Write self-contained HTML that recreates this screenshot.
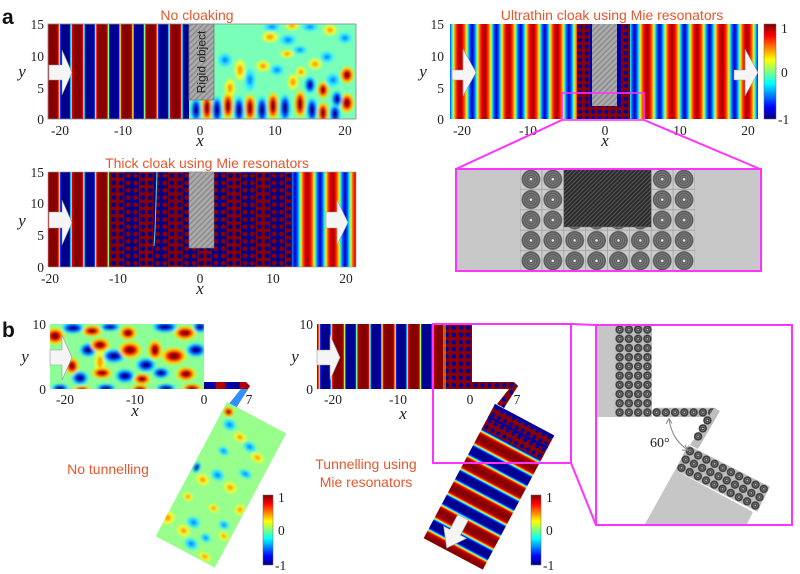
<!DOCTYPE html>
<html><head><meta charset="utf-8"><style>
html,body{margin:0;padding:0;background:#fff;}
svg{display:block;}
.t{font-family:"Liberation Serif",serif;font-size:13.5px;fill:#222;}
.ax{font-family:"Liberation Serif",serif;font-style:italic;font-size:17px;fill:#222;}
.ti{font-family:"Liberation Sans",sans-serif;font-size:14px;fill:#e4572e;}
.pl{font-family:"Liberation Sans",sans-serif;font-weight:bold;font-size:21px;fill:#111;}
</style></head><body>
<svg width="800" height="574" viewBox="0 0 800 574" xmlns="http://www.w3.org/2000/svg" xmlns:xlink="http://www.w3.org/1999/xlink">
<defs>
<linearGradient id="S">
<stop offset="0" stop-color="#800000"/><stop offset="0.17" stop-color="#900000"/><stop offset="0.22" stop-color="#ff0000"/><stop offset="0.25" stop-color="#ffff00"/><stop offset="0.28" stop-color="#00ffff"/><stop offset="0.31" stop-color="#0000ff"/><stop offset="0.35" stop-color="#00008c"/><stop offset="0.65" stop-color="#00008c"/><stop offset="0.69" stop-color="#0000ff"/><stop offset="0.72" stop-color="#00ffff"/><stop offset="0.75" stop-color="#ffff00"/><stop offset="0.78" stop-color="#ff0000"/><stop offset="0.83" stop-color="#900000"/><stop offset="1" stop-color="#800000"/>
</linearGradient>
<linearGradient id="M">
<stop offset="0" stop-color="#a80000"/><stop offset="0.1" stop-color="#e80000"/><stop offset="0.18" stop-color="#ff5000"/><stop offset="0.25" stop-color="#ffe000"/><stop offset="0.3" stop-color="#70ff90"/><stop offset="0.35" stop-color="#00d0ff"/><stop offset="0.41" stop-color="#0050ff"/><stop offset="0.5" stop-color="#0000c0"/><stop offset="0.59" stop-color="#0050ff"/><stop offset="0.65" stop-color="#00d0ff"/><stop offset="0.7" stop-color="#70ff90"/><stop offset="0.75" stop-color="#ffe000"/><stop offset="0.82" stop-color="#ff5000"/><stop offset="0.9" stop-color="#e80000"/><stop offset="1" stop-color="#a80000"/>
</linearGradient>
<linearGradient id="W">
<stop offset="0" stop-color="#800000"/><stop offset="0.15" stop-color="#a00000"/><stop offset="0.21" stop-color="#ff1000"/><stop offset="0.25" stop-color="#ffe000"/><stop offset="0.29" stop-color="#20ffff"/><stop offset="0.33" stop-color="#0020ff"/><stop offset="0.38" stop-color="#000090"/><stop offset="0.62" stop-color="#000090"/><stop offset="0.67" stop-color="#0020ff"/><stop offset="0.71" stop-color="#20ffff"/><stop offset="0.75" stop-color="#ffe000"/><stop offset="0.79" stop-color="#ff1000"/><stop offset="0.85" stop-color="#a00000"/><stop offset="1" stop-color="#800000"/>
</linearGradient>
<linearGradient id="gS1" xlink:href="#S" gradientUnits="userSpaceOnUse" x1="53" y1="0" x2="77.5" y2="0" spreadMethod="repeat"/>
<linearGradient id="gSb" xlink:href="#S" gradientUnits="userSpaceOnUse" x1="338" y1="0" x2="363.3" y2="0" spreadMethod="repeat"/>
<linearGradient id="gM2l" xlink:href="#M" gradientUnits="userSpaceOnUse" x1="460" y1="0" x2="484.2" y2="0" spreadMethod="repeat"/>
<linearGradient id="gM2r" xlink:href="#M" gradientUnits="userSpaceOnUse" x1="647" y1="0" x2="672" y2="0" spreadMethod="repeat"/>
<linearGradient id="gM3r" xlink:href="#M" gradientUnits="userSpaceOnUse" x1="307.5" y1="0" x2="332.5" y2="0" spreadMethod="repeat"/>
<linearGradient id="gW" xlink:href="#W" gradientUnits="userSpaceOnUse" x1="0" y1="38" x2="0" y2="66" spreadMethod="repeat"/>
<linearGradient id="jet" x1="0" y1="0" x2="0" y2="1">
<stop offset="0" stop-color="#800000"/><stop offset="0.125" stop-color="#ff0000"/><stop offset="0.375" stop-color="#ffff00"/><stop offset="0.5" stop-color="#80ff80"/><stop offset="0.625" stop-color="#00ffff"/><stop offset="0.875" stop-color="#0000ff"/><stop offset="1" stop-color="#000080"/>
</linearGradient>
<linearGradient id="BD">
<stop offset="0" stop-color="#8a0000"/><stop offset="0.48" stop-color="#8a0000"/><stop offset="0.5" stop-color="#00008a"/><stop offset="0.98" stop-color="#00008a"/><stop offset="1" stop-color="#8a0000"/>
</linearGradient>
<linearGradient id="band" xlink:href="#BD" gradientUnits="userSpaceOnUse" x1="110" y1="0" x2="139.2" y2="0" spreadMethod="repeat"/>
<linearGradient id="band2" xlink:href="#BD" gradientUnits="userSpaceOnUse" x1="124.6" y1="0" x2="153.8" y2="0" spreadMethod="repeat"/>
<linearGradient id="strip1" gradientUnits="userSpaceOnUse" x1="204" y1="0" x2="250" y2="0">
<stop offset="0" stop-color="#00008c"/><stop offset="0.24" stop-color="#0000c0"/><stop offset="0.27" stop-color="#c00000"/><stop offset="0.46" stop-color="#a00000"/><stop offset="0.5" stop-color="#0000c0"/><stop offset="0.76" stop-color="#00008c"/><stop offset="0.8" stop-color="#c00000"/><stop offset="1" stop-color="#900000"/>
</linearGradient>

<pattern id="dotsA2" patternUnits="userSpaceOnUse" x="577" y="24" width="6.5" height="6.5"><circle cx="3.25" cy="3.25" r="2.1" fill="#0000a0"/></pattern>
<pattern id="dotsB2" patternUnits="userSpaceOnUse" x="443" y="324" width="7.2" height="7.2"><circle cx="3.6" cy="3.6" r="2.3" fill="#0000a0"/></pattern>
<pattern id="dotsLoc" patternUnits="userSpaceOnUse" x="0" y="0" width="6.7" height="7"><circle cx="3.35" cy="3.5" r="2.2" fill="#0000a0"/></pattern>
<pattern id="dotW" patternUnits="userSpaceOnUse" x="110" y="172" width="7.3" height="7.3"><circle cx="3.65" cy="3.65" r="2.4" fill="#fff"/></pattern>
<mask id="mA3" maskUnits="userSpaceOnUse" x="0" y="0" width="800" height="574"><rect x="110" y="172" width="182" height="95" fill="url(#dotW)"/></mask>
<pattern id="hatch" patternUnits="userSpaceOnUse" width="4" height="4" patternTransform="rotate(45)"><rect width="4" height="4" fill="#ababab"/><rect width="1.5" height="4" fill="#8c8c8c"/></pattern>
<pattern id="hatchD" patternUnits="userSpaceOnUse" width="3" height="3" patternTransform="rotate(45)"><rect width="3" height="3" fill="#2c2c2c"/><rect width="1" height="3" fill="#575757"/></pattern>
<pattern id="rzP" patternUnits="userSpaceOnUse" x="520" y="169" width="21.875" height="20.4">
<rect width="21.875" height="20.4" fill="#cbcbcb" stroke="#9a9a9a" stroke-width="0.7"/>
<g transform="translate(10.94,10.2)"><circle r="9.4" fill="#5a5a5a"/><circle r="7.3" fill="none" stroke="#7f7f7f" stroke-width="0.9"/><circle r="5.1" fill="none" stroke="#7f7f7f" stroke-width="0.9"/><circle r="3" fill="none" stroke="#7f7f7f" stroke-width="0.9"/><circle r="1.3" fill="#eee"/></g>
</pattern>
<pattern id="rsP" patternUnits="userSpaceOnUse" x="615" y="325" width="9.25" height="9.2">
<rect width="9.25" height="9.2" fill="#bdbdbd"/><circle cx="4.625" cy="4.6" r="4.2" fill="#3c3c3c"/><circle cx="4.625" cy="4.6" r="2.2" fill="none" stroke="#8a8a8a" stroke-width="0.7"/><circle cx="4.625" cy="4.6" r="0.8" fill="#cfcfcf"/>
</pattern>
<pattern id="rsP2" patternUnits="userSpaceOnUse" x="0" y="0" width="9.2" height="9.33">
<rect width="9.2" height="9.33" fill="#bdbdbd"/><circle cx="4.6" cy="4.66" r="4.2" fill="#3c3c3c"/><circle cx="4.6" cy="4.66" r="2.2" fill="none" stroke="#8a8a8a" stroke-width="0.7"/><circle cx="4.6" cy="4.66" r="0.8" fill="#cfcfcf"/>
</pattern>
<g id="rs"><circle r="4.2" fill="#3c3c3c"/><circle r="2.2" fill="none" stroke="#8a8a8a" stroke-width="0.7"/><circle r="0.8" fill="#cfcfcf"/></g>

<g id="bR"><circle r="1.35" fill="#ffe000"/><circle r="1" fill="#ff1a00"/><circle r="0.6" fill="#8c0000"/></g>
<g id="bB"><circle r="1.35" fill="#20e0ff"/><circle r="1" fill="#0030ff"/><circle r="0.6" fill="#00008c"/></g>
<g id="bO"><circle r="1.3" fill="#f0ff30"/><circle r="0.65" fill="#ff9800"/></g>
<g id="bC"><circle r="1.3" fill="#30e8ff"/><circle r="0.65" fill="#0090ff"/></g>
<filter id="bl" x="-10%" y="-10%" width="120%" height="120%"><feGaussianBlur stdDeviation="1.3"/></filter>
<clipPath id="cA1"><rect x="189" y="24" width="167" height="95"/></clipPath>
<clipPath id="cB1"><rect x="50" y="324" width="154" height="65"/></clipPath>
<clipPath id="cLoc"><rect x="0" y="0" width="67" height="152"/></clipPath>
</defs>

<!-- ============ panel a ============ -->
<text class="pl" x="2" y="24">a</text>
<text class="ti" x="197" y="20" text-anchor="middle">No cloaking</text>
<text class="ti" x="612" y="20" text-anchor="middle">Ultrathin cloak using Mie resonators</text>
<text class="ti" x="207" y="168" text-anchor="middle">Thick cloak using Mie resonators</text>

<!-- a1 -->
<rect x="48" y="24" width="141" height="95" fill="url(#gS1)"/>
<g clip-path="url(#cA1)">
<rect x="189" y="24" width="167" height="95" fill="#7affb8"/>
<g filter="url(#bl)">
<use xlink:href="#bO" transform="translate(270,37) scale(6,4)"/>
<use xlink:href="#bO" transform="translate(292,26) scale(5,3)"/>
<use xlink:href="#bO" transform="translate(330,30) scale(5,4)"/>
<use xlink:href="#bO" transform="translate(287,54) scale(5,3)"/>
<use xlink:href="#bO" transform="translate(263,66) scale(5,4)"/>
<use xlink:href="#bO" transform="translate(315,64) scale(5,4)"/>
<use xlink:href="#bO" transform="translate(301,72) scale(4,4)"/>
<use xlink:href="#bO" transform="translate(240,70) scale(4,8)"/>
<use xlink:href="#bO" transform="translate(230,88) scale(4,7)"/>
<use xlink:href="#bO" transform="translate(293,82) scale(4,6)"/>
<use xlink:href="#bC" transform="translate(288,40) scale(6,4)"/>
<use xlink:href="#bC" transform="translate(272,27) scale(6,3)"/>
<use xlink:href="#bC" transform="translate(310,27) scale(6,3)"/>
<use xlink:href="#bC" transform="translate(345,38) scale(5,4)"/>
<use xlink:href="#bC" transform="translate(300,50) scale(5,3)"/>
<use xlink:href="#bC" transform="translate(277,70) scale(5,4)"/>
<use xlink:href="#bC" transform="translate(327,57) scale(5,4)"/>
<use xlink:href="#bC" transform="translate(250,80) scale(4,8)"/>
<use xlink:href="#bC" transform="translate(333,80) scale(5,5)"/>
<use xlink:href="#bC" transform="translate(225,60) scale(5,5)"/>
<use xlink:href="#bR" transform="translate(347,75) scale(5,6)"/>
<use xlink:href="#bR" transform="translate(323,90) scale(4,6)"/>
<use xlink:href="#bR" transform="translate(347,103) scale(5,7)"/>
<use xlink:href="#bB" transform="translate(196,110) scale(4,9)"/>
<use xlink:href="#bR" transform="translate(207,108) scale(4,10)"/>
<use xlink:href="#bB" transform="translate(217,110) scale(4,10)"/>
<use xlink:href="#bR" transform="translate(228,106) scale(4,10)"/>
<use xlink:href="#bB" transform="translate(239,110) scale(4,10)"/>
<use xlink:href="#bR" transform="translate(250,108) scale(4,10)"/>
<use xlink:href="#bB" transform="translate(262,110) scale(4,10)"/>
<use xlink:href="#bR" transform="translate(273,106) scale(4,10)"/>
<use xlink:href="#bB" transform="translate(285,108) scale(4,10)"/>
<use xlink:href="#bR" transform="translate(300,104) scale(4,10)"/>
<use xlink:href="#bB" transform="translate(310,85) scale(4,6)"/>
<use xlink:href="#bB" transform="translate(312,110) scale(4,9)"/>
<use xlink:href="#bR" transform="translate(323,113) scale(4,8)"/>
<use xlink:href="#bB" transform="translate(337,99) scale(4,6)"/>
<use xlink:href="#bB" transform="translate(335,114) scale(4,7)"/>
</g>
</g>
<rect x="189" y="24" width="25" height="76" fill="url(#hatch)" stroke="#777" stroke-width="0.8"/>
<text x="0" y="0" transform="translate(205.5,62) rotate(-90)" text-anchor="middle" font-family="Liberation Sans, sans-serif" font-size="12" fill="#222">Rigid object</text>
<rect x="48" y="24" width="308" height="95" fill="none" stroke="#888" stroke-width="0.8"/>
<polygon points="49,65 62,65 62,50 72,72.5 62,95 62,80 49,80" fill="#f5f5f5" stroke="#999" stroke-width="0.6"/>

<text class="t" x="44" y="29" text-anchor="end">15</text>
<text class="t" x="44" y="61" text-anchor="end">10</text>
<text class="t" x="44" y="93" text-anchor="end">5</text>
<text class="t" x="44" y="124" text-anchor="end">0</text>
<text class="t" x="60" y="135" text-anchor="middle">-20</text>
<text class="t" x="123" y="135" text-anchor="middle">-10</text>
<text class="t" x="200" y="135" text-anchor="middle">0</text>
<text class="t" x="275" y="135" text-anchor="middle">10</text>
<text class="t" x="345" y="135" text-anchor="middle">20</text>
<text class="ax" x="200" y="146" text-anchor="middle">x</text>
<text class="ax" x="22" y="77" text-anchor="middle">y</text>

<!-- a2 -->
<rect x="450" y="24" width="128" height="95" fill="url(#gM2l)"/>
<rect x="630" y="24" width="128" height="95" fill="url(#gM2r)"/>
<rect x="577" y="24" width="14" height="95" fill="#8a0000"/>
<rect x="618" y="24" width="12" height="95" fill="#8a0000"/>
<rect x="591" y="106" width="27" height="13" fill="#8a0000"/>
<rect x="577" y="24" width="14" height="95" fill="url(#dotsA2)"/>
<rect x="618" y="24" width="12" height="95" fill="url(#dotsA2)"/>
<rect x="591" y="106" width="27" height="13" fill="url(#dotsA2)"/>
<rect x="590" y="24" width="3" height="82" fill="#0000b0"/>
<rect x="617" y="24" width="4" height="82" fill="#0000b0"/>
<rect x="592" y="24" width="25" height="82" fill="url(#hatch)"/>
<polygon points="452,70 463,70 463,49 476,72.5 463,96 463,80 452,80" fill="#f5f5f5" stroke="#999" stroke-width="0.6"/>
<polygon points="734,70 745,70 745,49 758,72.5 745,96 745,80 734,80" fill="#f5f5f5" stroke="#999" stroke-width="0.6"/>
<rect x="764" y="24" width="12" height="95" fill="url(#jet)" stroke="#666" stroke-width="0.5"/>
<text class="t" x="781" y="33">1</text>
<text class="t" x="781" y="77">0</text>
<text class="t" x="778" y="124">-1</text>

<text class="t" x="444" y="29" text-anchor="end">15</text>
<text class="t" x="444" y="61" text-anchor="end">10</text>
<text class="t" x="444" y="93" text-anchor="end">5</text>
<text class="t" x="444" y="124" text-anchor="end">0</text>
<text class="t" x="462" y="135" text-anchor="middle">-20</text>
<text class="t" x="528" y="135" text-anchor="middle">-10</text>
<text class="t" x="605" y="135" text-anchor="middle">0</text>
<text class="t" x="680" y="135" text-anchor="middle">10</text>
<text class="t" x="748" y="135" text-anchor="middle">20</text>
<text class="ax" x="605" y="146" text-anchor="middle">x</text>
<text class="ax" x="423" y="77" text-anchor="middle">y</text>

<!-- a zoom box -->
<rect x="456" y="169" width="305" height="102" fill="#c8c8c8"/>
<rect x="520" y="169" width="175" height="102" fill="url(#rzP)"/>
<rect x="563.75" y="169" width="87.5" height="58" fill="url(#hatchD)" stroke="#777" stroke-width="0.6"/>
<line x1="562" y1="120" x2="456" y2="169" stroke="#ff33ff" stroke-width="2"/>
<line x1="644" y1="120" x2="760" y2="169" stroke="#ff33ff" stroke-width="2"/>
<rect x="562" y="93" width="82" height="27" fill="none" stroke="#ff33ff" stroke-width="1.6"/>
<rect x="456" y="169" width="305" height="102" fill="none" stroke="#ff33ff" stroke-width="2"/>

<!-- a3 -->
<rect x="48" y="172" width="62" height="95" fill="url(#gS1)"/>
<rect x="292" y="172" width="64" height="95" fill="url(#gM3r)"/>
<rect x="110" y="172" width="182" height="95" fill="url(#band)"/>
<rect x="110" y="172" width="182" height="95" fill="url(#band2)" mask="url(#mA3)"/>
<path d="M157,172 L156,200 L155,230 L154,246" stroke="#40e0ff" stroke-width="1" fill="none"/>
<rect x="189" y="172" width="25" height="76" fill="url(#hatch)" stroke="#777" stroke-width="0.6"/>
<rect x="48" y="172" width="308" height="95" fill="none" stroke="#999" stroke-width="0.6"/>
<polygon points="49,212 62,212 62,200 72,222.5 62,245 62,228 49,228" fill="#f5f5f5" stroke="#999" stroke-width="0.6"/>
<polygon points="326,212 337,212 337,200 348,222.5 337,245 337,228 326,228" fill="#f5f5f5" stroke="#999" stroke-width="0.6"/>
<text class="t" x="44" y="177" text-anchor="end">15</text>
<text class="t" x="44" y="208" text-anchor="end">10</text>
<text class="t" x="44" y="240" text-anchor="end">5</text>
<text class="t" x="44" y="272" text-anchor="end">0</text>
<text class="t" x="50" y="283" text-anchor="middle">-20</text>
<text class="t" x="118" y="283" text-anchor="middle">-10</text>
<text class="t" x="200" y="283" text-anchor="middle">0</text>
<text class="t" x="273" y="283" text-anchor="middle">10</text>
<text class="t" x="346" y="283" text-anchor="middle">20</text>
<text class="ax" x="200" y="294" text-anchor="middle">x</text>
<text class="ax" x="22" y="226" text-anchor="middle">y</text>

<!-- ============ panel b ============ -->
<text class="pl" x="2" y="337">b</text>

<!-- b1 -->
<g clip-path="url(#cB1)">
<rect x="50" y="324" width="154" height="65" fill="#8cff96"/>
<g filter="url(#bl)">
<use xlink:href="#bO" transform="translate(100,362) scale(4,9)"/>
<use xlink:href="#bR" transform="translate(55,336) scale(7,6)"/>
<use xlink:href="#bB" transform="translate(73,328) scale(8,4)"/>
<use xlink:href="#bR" transform="translate(92,331) scale(7,4)"/>
<use xlink:href="#bB" transform="translate(110,327) scale(7,3)"/>
<use xlink:href="#bR" transform="translate(128,333) scale(6,5)"/>
<use xlink:href="#bB" transform="translate(165,327) scale(9,4)"/>
<use xlink:href="#bR" transform="translate(185,333) scale(8,5)"/>
<use xlink:href="#bB" transform="translate(200,327) scale(5,4)"/>
<use xlink:href="#bB" transform="translate(88,350) scale(6,5)"/>
<use xlink:href="#bR" transform="translate(100,345) scale(7,5)"/>
<use xlink:href="#bB" transform="translate(114,356) scale(8,5)"/>
<use xlink:href="#bR" transform="translate(130,350) scale(8,6)"/>
<use xlink:href="#bB" transform="translate(146,365) scale(7,5)"/>
<use xlink:href="#bR" transform="translate(155,350) scale(5,7)"/>
<use xlink:href="#bR" transform="translate(174,356) scale(9,6)"/>
<use xlink:href="#bB" transform="translate(196,350) scale(7,5)"/>
<use xlink:href="#bR" transform="translate(72,366) scale(5,6)"/>
<use xlink:href="#bB" transform="translate(80,378) scale(6,5)"/>
<use xlink:href="#bR" transform="translate(102,373) scale(7,4)"/>
<use xlink:href="#bB" transform="translate(125,376) scale(7,5)"/>
<use xlink:href="#bR" transform="translate(142,379) scale(6,4)"/>
<use xlink:href="#bB" transform="translate(161,373) scale(6,4)"/>
<use xlink:href="#bR" transform="translate(186,374) scale(7,5)"/>
<use xlink:href="#bB" transform="translate(60,388) scale(6,3)"/>
<use xlink:href="#bR" transform="translate(82,390) scale(6,3)"/>
<use xlink:href="#bB" transform="translate(106,388) scale(7,3)"/>
<use xlink:href="#bR" transform="translate(140,389) scale(6,3)"/>
<use xlink:href="#bB" transform="translate(166,388) scale(7,3)"/>
<use xlink:href="#bR" transform="translate(192,388) scale(7,3)"/>
</g>
</g>
<polygon points="204,382 246,382 250,386 236,408 229,404 241,389 204,389" fill="url(#strip1)"/>
<polygon points="241,389 248,389 236,408 229,404" fill="#3090ff"/>
<g transform="translate(227,402) rotate(28)">
<rect x="0" y="0" width="67" height="152" fill="#98ff8c"/>
<g clip-path="url(#cLoc)"><g filter="url(#bl)">
<use xlink:href="#bR" transform="translate(6,8) scale(4,3.5)"/>
<use xlink:href="#bO" transform="translate(28,25) scale(5,3.5)"/>
<use xlink:href="#bO" transform="translate(53,35) scale(5,3.5)"/>
<use xlink:href="#bO" transform="translate(15,80) scale(5,4)"/>
<use xlink:href="#bO" transform="translate(43,74) scale(5,4)"/>
<use xlink:href="#bO" transform="translate(62,89) scale(4,4)"/>
<use xlink:href="#bO" transform="translate(2,130) scale(5,5)"/>
<use xlink:href="#bO" transform="translate(22,134) scale(5,4)"/>
<use xlink:href="#bO" transform="translate(53,147) scale(5,3)"/>
<use xlink:href="#bO" transform="translate(38,100) scale(4,3)"/>
<use xlink:href="#bO" transform="translate(10,102) scale(4,3)"/>
<use xlink:href="#bO" transform="translate(60,120) scale(4,3)"/>
<use xlink:href="#bC" transform="translate(13,19) scale(5,4)"/>
<use xlink:href="#bC" transform="translate(41,29) scale(5,3.5)"/>
<use xlink:href="#bB" transform="translate(4,72) scale(2.5,4)"/>
<use xlink:href="#bC" transform="translate(26,69) scale(5,4)"/>
<use xlink:href="#bC" transform="translate(27,122) scale(5,4)"/>
<use xlink:href="#bC" transform="translate(35,142) scale(5,4)"/>
<use xlink:href="#bC" transform="translate(50,55) scale(5,3)"/>
<use xlink:href="#bC" transform="translate(55,110) scale(4,3)"/>
<use xlink:href="#bC" transform="translate(45,130) scale(4,3)"/>
<use xlink:href="#bC" transform="translate(20,45) scale(4,3)"/>
</g></g>
</g>
<polygon points="50,350 62,350 62,335 72,357.5 62,380 62,365 50,365" fill="#f5f5f5" stroke="#999" stroke-width="0.6"/>
<rect x="263" y="495" width="10" height="70" fill="url(#jet)" stroke="#666" stroke-width="0.5"/>
<text class="t" x="278" y="502">1</text>
<text class="t" x="278" y="535">0</text>
<text class="t" x="275" y="570">-1</text>
<text class="t" x="46" y="329" text-anchor="end">10</text>
<text class="t" x="46" y="394" text-anchor="end">0</text>
<text class="t" x="65" y="404" text-anchor="middle">-20</text>
<text class="t" x="135" y="404" text-anchor="middle">-10</text>
<text class="t" x="204" y="404" text-anchor="middle">0</text>
<text class="t" x="249" y="404" text-anchor="middle">7</text>
<text class="ax" x="135" y="416" text-anchor="middle">x</text>
<text class="ax" x="25" y="362" text-anchor="middle">y</text>
<text class="ti" x="108" y="474" text-anchor="middle">No tunnelling</text>

<!-- b2 -->
<rect x="317" y="324" width="126" height="65" fill="url(#gSb)"/>
<rect x="443" y="324" width="29" height="65" fill="#8a0000"/>
<rect x="443" y="324" width="29" height="65" fill="url(#dotsB2)"/>
<rect x="443" y="324" width="3" height="65" fill="#ffa000" opacity="0.6"/>
<polygon points="472,382 514,382 518,386 504,408 497,404 509,389 472,389" fill="#8a0000"/>
<polygon points="472,382 514,382 518,386 504,408 497,404 509,389 472,389" fill="url(#dotsB2)"/>
<g transform="translate(495,404) rotate(28)">
<rect x="0" y="0" width="67" height="152" fill="url(#gW)"/>
<rect x="0" y="0" width="67" height="28" fill="#8a0000"/>
<rect x="0" y="0" width="67" height="28" fill="url(#dotsLoc)"/>
<rect x="0" y="0" width="67" height="3" fill="#0000a0"/>
<rect x="0" y="13" width="67" height="2.5" fill="#0000a0"/>
<polygon points="19,115 31,115 31,132 38,132 25,150 12,132 19,132" fill="#f5f5f5" stroke="#999" stroke-width="0.6"/>
</g>
<polygon points="317,350 330,350 330,335 340,357.5 330,380 330,365 317,365" fill="#f5f5f5" stroke="#999" stroke-width="0.6"/>
<rect x="531" y="495" width="10" height="70" fill="url(#jet)" stroke="#666" stroke-width="0.5"/>
<text class="t" x="546" y="502">1</text>
<text class="t" x="546" y="535">0</text>
<text class="t" x="543" y="570">-1</text>
<text class="t" x="313" y="329" text-anchor="end">10</text>
<text class="t" x="313" y="394" text-anchor="end">0</text>
<text class="t" x="333" y="404" text-anchor="middle">-20</text>
<text class="t" x="398" y="404" text-anchor="middle">-10</text>
<text class="t" x="470" y="404" text-anchor="middle">0</text>
<text class="t" x="517" y="404" text-anchor="middle">7</text>
<text class="ax" x="403" y="419" text-anchor="middle">x</text>
<text class="ax" x="295" y="362" text-anchor="middle">y</text>
<text class="ti" x="366" y="469" text-anchor="middle">Tunnelling using</text>
<text class="ti" x="366" y="487" text-anchor="middle">Mie resonators</text>

<!-- b zoom panel -->
<rect x="596" y="325" width="19" height="92" fill="#c6c6c6"/>
<rect x="615" y="325" width="37" height="92" fill="url(#rsP)"/>
<rect x="652" y="407.8" width="66" height="9.2" rx="4.5" fill="url(#rsP)"/>
<polygon points="714,408 720,411 698,449 690,445" fill="#bdbdbd"/>
<use xlink:href="#rs" transform="translate(707.4,420.4)"/>
<use xlink:href="#rs" transform="translate(702.8,428.4)"/>
<use xlink:href="#rs" transform="translate(698.1,436.4)"/>
<polygon points="675,470 753,512 747,524 645,524" fill="#c6c6c6"/>
<g transform="translate(688,445) rotate(27)">
<rect x="0" y="0" width="92" height="28" fill="url(#rsP2)"/>
</g>
<path d="M669,419 Q672,440 688,450" stroke="#888" stroke-width="1" fill="none"/>
<path d="M666,424 L669,418.5 L672,423.5" stroke="#888" stroke-width="1" fill="none"/>
<path d="M682,450 L688,450.5 L685,445" stroke="#888" stroke-width="1" fill="none"/>
<text x="650" y="447" font-family="Liberation Serif, serif" font-size="14" fill="#222">60°</text>

<rect x="433" y="324" width="138" height="139" fill="none" stroke="#ff33ff" stroke-width="2"/>
<line x1="571" y1="324" x2="596" y2="325" stroke="#ff33ff" stroke-width="2"/>
<line x1="571" y1="463" x2="596" y2="525" stroke="#ff33ff" stroke-width="2"/>
<rect x="596" y="325" width="196" height="200" fill="none" stroke="#ff33ff" stroke-width="2"/>
</svg>
</body></html>
